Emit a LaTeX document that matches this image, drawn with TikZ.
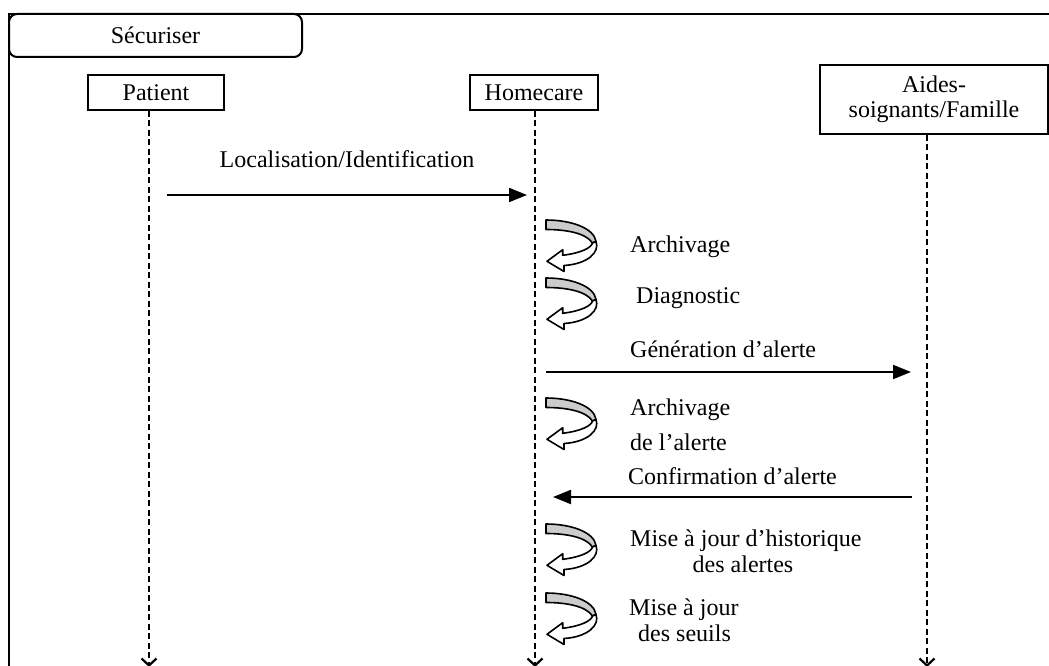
\documentclass[tikz,border=0pt]{standalone}
\usepackage{fontspec}
\setmainfont{Liberation Serif}
\usetikzlibrary{arrows.meta}
\begin{document}
\begin{tikzpicture}[x=1pt,y=-1pt,
  font=\fontsize{24}{25}\selectfont,
  actor/.style={draw, line width=1.7pt, inner sep=0pt, align=center},
  lifeline/.style={line width=2pt, dash pattern=on 6pt off 3.5pt,
    -{Straight Barb[length=7pt,width=15pt,line width=2.2pt]}},
  msg/.style={line width=2pt, -{Triangle[length=18pt,width=14pt]}},
  lbl/.style={inner sep=0pt, anchor=base west},
  selfloop/.pic={
    \draw[line width=1.6pt, fill=gray!40, line join=round]
      (0,0) -- (0,9.5) .. controls (20,9.5) and (40,13) .. (46.5,23)
      -- (50,21.5) .. controls (48,8) and (25,0) .. (0,0) -- cycle;
    \draw[line width=1.6pt, fill=white, line join=round]
      (50,21.5) .. controls (54,32) and (42,44) .. (18,45.5)
      -- (18,51.5) -- (1,41.3) -- (16.7,29.7) -- (16.7,35.3)
      .. controls (35,33) and (45,28) .. (46.5,23) -- cycle;
  }]
\useasboundingbox (0,0) rectangle (1049,666);
\clip (0,0) rectangle (1049,666);

% outer frame
\draw[line width=2.4pt] (9,690) -- (9,14) -- (1070,14);

% header and actors
\node[actor, rounded corners=8pt, line width=2pt, minimum width=293pt, minimum height=43pt] (secu) at (155.5,35.5) {Sécuriser};
\node[actor, minimum width=136pt, minimum height=35pt] (patient) at (156,92.5) {Patient};
\node[actor, minimum width=128pt, minimum height=35pt] (home) at (534,92.5) {Homecare};
\node[actor, minimum width=228pt, minimum height=69pt] (aides) at (934,99.5) {Aides-\\soignants/Famille};

% lifelines
\coordinate (pEnd) at (149,667);
\coordinate (hEnd) at (535,667);
\coordinate (aEnd) at (927,667);
\draw[lifeline] (pEnd |- patient.south) -- (pEnd);
\draw[lifeline] (hEnd |- home.south) -- (hEnd);
\draw[lifeline] (aEnd |- aides.south) -- (aEnd);

% messages
\coordinate (m1s) at (167,195);
\coordinate (m1e) at (527,195);
\draw[msg] (m1s) -- (m1e);
\coordinate (m2s) at (546,372);
\coordinate (m2e) at (911,372);
\draw[msg] (m2s) -- (m2e);
\coordinate (m3s) at (912,497);
\coordinate (m3e) at (553,497);
\draw[msg] (m3s) -- (m3e);

% self actions
\pic at (546,220) {selfloop};
\pic at (546,278) {selfloop};
\pic at (546,398) {selfloop};
\pic at (546,524) {selfloop};
\pic at (546,593) {selfloop};

% labels
\node[lbl, anchor=base] (tLoc) at (347,167) {Localisation/Identification};
\node[lbl] (tArch1) at (630,252) {Archivage};
\node[lbl] (tDiag) at (636,303) {Diagnostic};
\node[lbl] (tGen) at (630,357) {Génération d’alerte};
\node[lbl] (tArch2) at (630,415) {Archivage};
\node[lbl] (tArch2b) at (630,450) {de l’alerte};
\node[lbl] (tConf) at (628,484) {Confirmation d’alerte};
\node[lbl] (tHist) at (630,546) {Mise à jour d’historique};
\node[lbl, anchor=base] (tHistb) at (743,572) {des alertes};
\node[lbl] (tSeuil) at (629,615) {Mise à jour};
\node[lbl] (tSeuilb) at (638,641) {des seuils};
\end{tikzpicture}
\end{document}
